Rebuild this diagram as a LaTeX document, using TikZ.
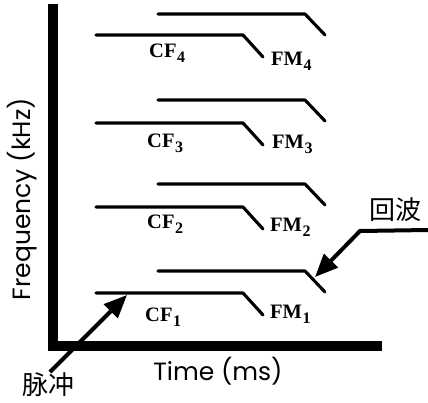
\documentclass[tikz,border=0pt]{standalone}
\usepackage{fontspec}
\setmainfont{Liberation Serif}
\newfontfamily\axisfont{Poppins}
\newfontfamily\cjkfont{Noto Sans CJK SC}
\usetikzlibrary{arrows.meta}

\newcommand{\sublabel}[2]{#1\kern0.5pt\raisebox{-5pt}{\fontsize{16}{16}\selectfont #2}}

\begin{document}
\begin{tikzpicture}[x=1pt,y=-1pt,
  trace/.style={line width=3.1pt, line join=round, line cap=round},
  axisline/.style={line width=9.5pt, line join=miter},
  pointer/.style={line width=4pt, -{Triangle[length=23pt,width=19pt]}},
  marklabel/.style={font=\fontsize{20.5}{20.5}\selectfont\bfseries, anchor=base west, inner sep=0pt},
  axislabel/.style={font=\axisfont\fontsize{25}{25}\selectfont, inner sep=0pt},
  cjklabel/.style={font=\cjkfont\fontsize{26}{26}\selectfont, inner sep=0pt},
]
\useasboundingbox (0,0) rectangle (428,402);
\fill[white] (0,0) rectangle (428,402);

% axes
\draw[axisline] (53,4) -- (53,346) -- (382,346);

% pulse (lower) and echo (upper) traces, one pair per harmonic
\foreach \p/\e in {35/14, 123/100, 207/184, 293/271}{
  \draw[trace] (96,\p) -- (243,\p) -- (263,\p+22);
  \draw[trace] (158,\e) -- (305,\e) -- (325,\e+21);
}

% harmonic labels
\node[marklabel] (cf4) at (149,57)  {\sublabel{CF}{4}};
\node[marklabel] (cf3) at (147,147) {\sublabel{CF}{3}};
\node[marklabel] (cf2) at (147,228) {\sublabel{CF}{2}};
\node[marklabel] (cf1) at (145,321) {\sublabel{CF}{1}};
\node[marklabel] (fm4) at (271,65)  {\sublabel{FM}{4}};
\node[marklabel] (fm3) at (272,148) {\sublabel{FM}{3}};
\node[marklabel] (fm2) at (270,231) {\sublabel{FM}{2}};
\node[marklabel] (fm1) at (270,318) {\sublabel{FM}{1}};

% axis titles
\node[axislabel, rotate=90] (ylab) at (22,199) {Frequency (kHz)};
\node[axislabel] (xlab) at (218,371) {Time (ms)};

% call and echo markers
\node[cjklabel, anchor=north] (pulse) at (48,372) {脉冲};
\node[cjklabel] (echo) at (395,210) {回波};
\coordinate (pulsetip) at (127,295);
\coordinate (echoin) at (428,230);
\coordinate (echobend) at (360,231);
\coordinate (echotip) at (315,277);
\draw[pointer] (pulse.north) ++(2,0) -- (pulsetip);
\draw[pointer, line join=miter] (echoin) -- (echobend) -- (echotip);
\end{tikzpicture}
\end{document}
